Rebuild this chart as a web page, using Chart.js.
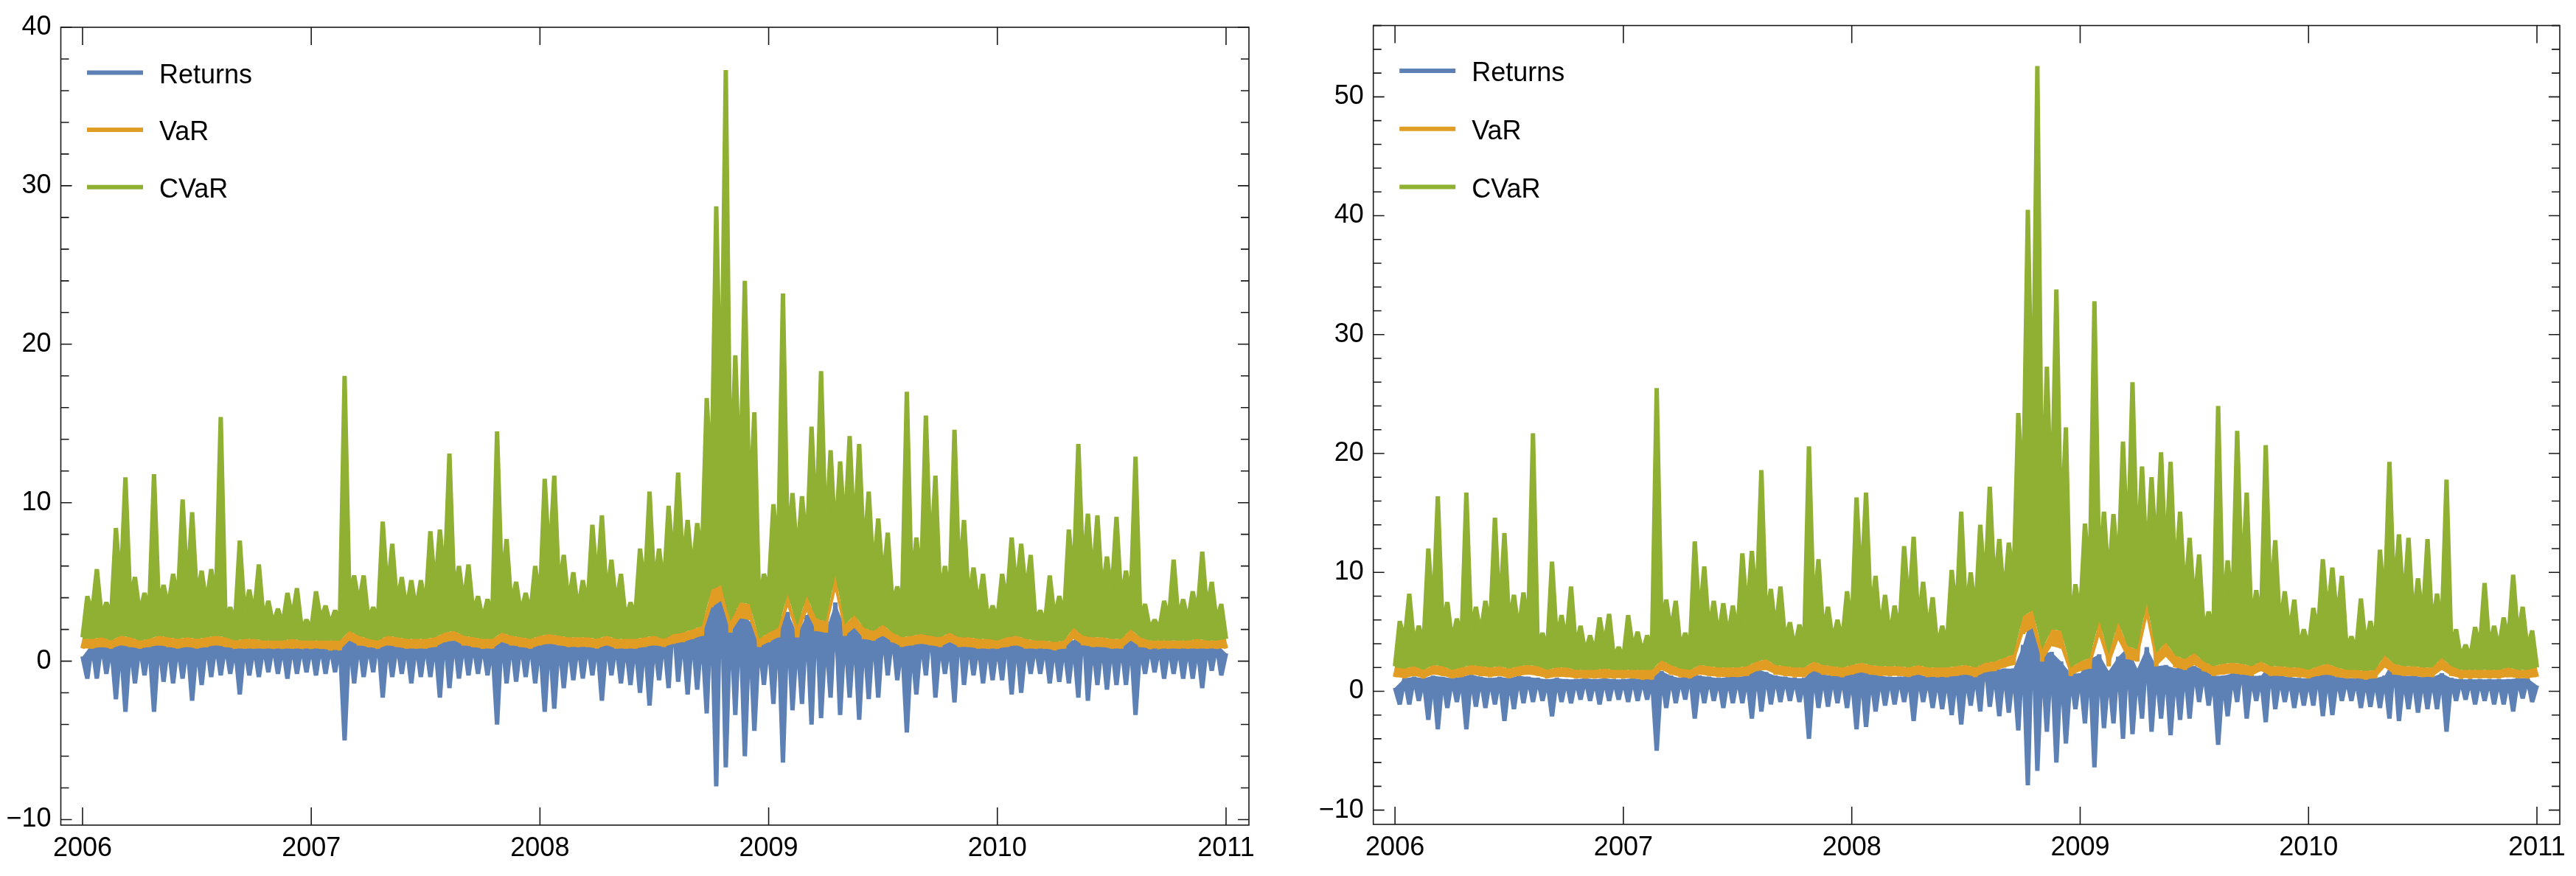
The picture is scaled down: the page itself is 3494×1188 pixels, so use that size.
<!DOCTYPE html>
<html>
<head>
<meta charset="utf-8">
<script src="https://cdn.jsdelivr.net/npm/chart.js@4.4.1/dist/chart.umd.min.js"></script>
<style>
  html, body { margin: 0; padding: 0; background: #fff; }
  #wrap { position: relative; width: 3494px; height: 1188px; background: #fff; overflow: hidden; }
  canvas { position: absolute; top: 0; }
  #chartLeft { left: 0; }
  #chartRight { left: 1750px; }
</style>
</head>
<body>
<div id="wrap">
  <canvas id="chartLeft" width="1750" height="1188"></canvas>
  <canvas id="chartRight" width="1744" height="1188"></canvas>
</div>
<script>
const seriesNames = ['Returns', 'VaR', 'CVaR'];
const seriesColors = ['#5e81b5', '#e19c24', '#8fb032'];
const yearTicks = [2006, 2007, 2008, 2009, 2010, 2011];
const leftYLabels = [-10, 0, 10, 20, 30, 40];
const rightYLabels = [-10, 0, 10, 20, 30, 40, 50];

// one sample every 1/48 year, starting 2006.0
// first array of each pair sits on the even steps, second on the odd steps
const startYear = 2006;
const stepsPerYear = 48;

// Returns (same series in both panels)
const returnsUp = [
  0.3, 1.1, 1.2, 1.1, 1.3, 1.2, 1.1, 1.2, 1.4, 1.2, 1.1, 1.2, 1.1, 1.3, 1.2, 1.1, 1.0, 1.1, 1.0, 1.0, 1.1, 1.0, 1.1, 1.0,
  1.0, 1.1, 1.0, 1.2, 1.7, 1.3, 1.1, 1.6, 1.3, 1.2, 1.1, 1.2, 1.2, 1.3, 1.9, 1.6, 1.3, 1.2, 1.1, 1.1, 1.9, 1.4, 1.3, 1.3,
  1.4, 1.8, 1.5, 1.3, 1.2, 1.2, 1.3, 1.4, 1.2, 1.2, 1.3, 1.5, 1.4, 1.6, 3.0, 1.8, 1.9, 1.9, 3.9, 6.7, 3.2, 3.3, 2.5, 1.5,
  1.5, 2.7, 3.1, 1.7, 2.9, 3.7, 1.9, 3.7, 2.1, 2.2, 1.9, 2.1, 2.1, 1.8, 1.3, 1.3, 1.5, 2.4, 1.3, 1.3, 2.3, 1.3, 1.2, 1.1,
  1.1, 1.7, 1.6, 1.2, 1.1, 1.1, 1.1, 1.1, 1.3, 2.8, 1.3, 1.3, 1.2, 1.2, 1.5, 1.1, 1.0, 1.0, 1.0, 1.0, 1.0, 1.0, 1.1, 1.1,
  0.5
];
const returnsDown = [
  -1.1, -1.1, -0.8, -2.4, -3.2, -1.4, -0.9, -3.2, -1.3, -1.4, -1.1, -2.5, -1.5, -1.0, -0.9, -0.8, -2.1, -0.9, -1.0, -0.7, -0.8, -1.1, -0.8, -0.7,
  -0.9, -0.8, -0.7, -5.0, -1.4, -1.0, -0.7, -2.3, -1.0, -0.8, -1.4, -1.0, -1.0, -2.3, -1.7, -1.1, -0.9, -0.8, -0.9, -4.0, -1.4, -1.3, -1.0, -1.4,
  -3.2, -3.0, -1.7, -1.2, -1.1, -0.9, -2.5, -0.9, -1.4, -1.5, -2.0, -2.8, -1.2, -1.7, -1.3, -2.1, -1.8, -3.3, -7.9, -6.7, -3.4, -6.0, -4.4, -1.5,
  -2.7, -6.4, -3.1, -2.7, -4.0, -3.6, -2.3, -3.4, -2.3, -3.7, -2.4, -2.3, -0.9, -1.2, -4.5, -2.1, -0.9, -2.3, -0.8, -2.6, -1.5, -0.9, -1.4, -1.2,
  -1.2, -2.1, -2.0, -0.8, -0.8, -1.4, -1.3, -1.4, -2.3, -2.5, -1.5, -1.8, -1.5, -1.5, -3.4, -0.8, -0.7, -1.1, -0.8, -1.1, -1.1, -1.7, -0.6, -0.9
];

// left panel
const varLeftLow = [
  0.8, 0.8, 0.9, 0.8, 1.0, 0.9, 0.8, 0.9, 1.0, 0.9, 0.8, 0.9, 0.8, 0.9, 1.0, 0.9, 0.8, 0.8, 0.8, 0.8, 0.8, 0.8, 0.8, 0.8,
  0.8, 0.8, 0.7, 0.7, 1.3, 1.0, 0.9, 0.8, 1.0, 0.9, 0.8, 0.8, 0.8, 0.9, 1.2, 1.3, 1.0, 0.9, 0.8, 0.8, 1.2, 1.0, 0.9, 0.8,
  1.0, 1.1, 1.0, 0.9, 0.9, 0.9, 0.8, 1.0, 0.8, 0.8, 0.8, 0.9, 1.0, 0.9, 1.1, 1.2, 1.4, 1.6, 3.4, 3.8, 1.8, 2.7, 2.6, 0.9,
  1.2, 1.5, 3.4, 1.5, 3.1, 1.9, 1.8, 4.4, 1.6, 2.1, 1.4, 1.3, 1.6, 1.2, 0.9, 1.0, 1.1, 1.0, 0.9, 1.2, 0.9, 0.9, 0.8, 0.8,
  0.8, 0.9, 1.0, 0.8, 0.8, 0.8, 0.7, 0.8, 1.4, 1.0, 0.9, 0.9, 0.8, 0.8, 1.3, 0.9, 0.8, 0.8, 0.8, 0.8, 0.8, 0.8, 0.8, 0.8,
  0.8
];
const varLeftHigh = [
  2.2, 3.0, 2.0, 4.2, 5.8, 2.8, 2.3, 5.9, 2.6, 2.9, 5.1, 4.8, 3.0, 3.0, 7.6, 1.9, 3.9, 2.4, 3.2, 2.0, 1.8, 2.3, 2.4, 1.5,
  2.3, 1.9, 1.7, 9.0, 2.8, 2.8, 1.8, 4.5, 3.8, 2.8, 2.7, 2.7, 4.2, 4.3, 6.6, 3.1, 3.2, 2.2, 2.1, 7.3, 4.0, 2.7, 2.3, 3.1,
  5.8, 5.9, 3.5, 2.9, 2.7, 4.4, 4.7, 3.3, 2.9, 2.0, 3.7, 5.5, 3.7, 5.0, 6.0, 4.6, 4.5, 8.4, 14.5, 18.9, 9.8, 12.1, 8.0, 2.9,
  5.0, 11.7, 5.4, 5.3, 7.5, 9.3, 6.8, 6.4, 7.2, 7.0, 5.4, 4.6, 4.1, 2.5, 8.6, 4.0, 7.9, 6.0, 3.1, 7.4, 4.6, 3.0, 2.8, 1.8,
  2.8, 4.0, 3.8, 3.4, 1.7, 2.8, 2.1, 4.2, 7.0, 4.7, 4.7, 3.4, 4.6, 2.9, 6.6, 1.9, 1.4, 2.0, 3.3, 2.0, 2.3, 3.5, 2.6, 1.9
];
// CVaR: lower edge of the green band, typical level between spikes, spike tops
const cvarLeftFloor = [
  1.4, 1.4, 1.5, 1.3, 1.6, 1.5, 1.3, 1.4, 1.6, 1.5, 1.4, 1.5, 1.4, 1.5, 1.6, 1.5, 1.3, 1.4, 1.4, 1.3, 1.3, 1.3, 1.4, 1.3,
  1.3, 1.3, 1.3, 1.3, 1.9, 1.6, 1.4, 1.3, 1.6, 1.5, 1.4, 1.4, 1.4, 1.5, 1.8, 1.9, 1.6, 1.5, 1.4, 1.4, 1.8, 1.6, 1.5, 1.4,
  1.6, 1.7, 1.6, 1.5, 1.5, 1.5, 1.4, 1.6, 1.4, 1.4, 1.4, 1.5, 1.6, 1.4, 1.7, 1.8, 2.0, 2.2, 4.5, 4.8, 2.5, 3.7, 3.6, 1.4,
  1.8, 2.1, 4.2, 2.2, 4.1, 2.7, 2.5, 5.4, 2.3, 2.9, 2.1, 1.9, 2.3, 1.8, 1.5, 1.6, 1.7, 1.6, 1.5, 1.8, 1.5, 1.5, 1.4, 1.4,
  1.3, 1.5, 1.6, 1.4, 1.3, 1.3, 1.2, 1.3, 2.1, 1.6, 1.5, 1.5, 1.4, 1.4, 2.0, 1.5, 1.3, 1.3, 1.3, 1.3, 1.3, 1.4, 1.3, 1.3,
  1.4
];
const cvarLeftBody = [
  1.5, 3.0, 2.8, 2.8, 4.5, 3.8, 3.0, 3.2, 3.5, 3.4, 3.8, 4.5, 4.0, 3.6, 3.8, 2.6, 2.4, 3.0, 2.9, 2.6, 2.3, 2.3, 2.7, 2.0,
  2.0, 2.6, 2.3, 2.4, 4.0, 3.6, 2.6, 2.6, 4.2, 3.6, 3.2, 3.2, 3.4, 4.5, 5.0, 4.2, 3.6, 3.0, 2.6, 2.8, 4.6, 3.5, 3.0, 3.0,
  3.8, 6.0, 4.5, 3.6, 3.2, 3.4, 4.8, 4.0, 3.5, 2.6, 2.8, 4.5, 4.6, 4.6, 6.0, 6.0, 5.5, 6.5, 11.0, 14.0, 10.0, 10.5, 9.0, 3.5,
  4.5, 6.5, 7.0, 6.5, 7.0, 8.0, 7.5, 7.5, 8.0, 7.5, 6.5, 5.5, 5.0, 3.5, 3.5, 4.5, 5.0, 6.0, 4.0, 4.0, 5.0, 3.8, 3.4, 2.6,
  2.6, 3.6, 4.4, 4.2, 2.5, 2.4, 2.7, 2.8, 5.0, 5.5, 5.0, 4.2, 4.2, 3.8, 3.8, 2.6, 2.0, 2.0, 2.6, 2.6, 2.5, 3.0, 3.2, 2.5,
  1.4
];
const cvarLeftHigh = [
  4.1, 5.8, 3.7, 8.4, 11.6, 5.3, 4.3, 11.8, 4.8, 5.5, 10.2, 9.4, 5.7, 5.8, 15.4, 3.4, 7.6, 4.5, 6.1, 3.8, 3.3, 4.3, 4.6, 2.6,
  4.4, 3.5, 3.2, 18.0, 5.4, 5.4, 3.4, 8.8, 7.4, 5.3, 5.1, 5.1, 8.2, 8.3, 13.1, 6.0, 6.1, 4.1, 3.9, 14.5, 7.7, 5.0, 4.3, 6.0,
  11.5, 11.7, 6.7, 5.6, 5.1, 8.6, 9.2, 6.4, 5.5, 3.7, 7.1, 10.7, 7.1, 9.8, 11.9, 8.9, 8.7, 16.6, 28.7, 37.3, 19.3, 24.0, 15.7, 5.5,
  9.9, 23.2, 10.6, 10.4, 14.8, 18.3, 13.3, 12.6, 14.2, 13.7, 10.7, 9.0, 8.1, 4.7, 17.0, 7.8, 15.5, 11.7, 6.0, 14.6, 8.9, 5.9, 5.5, 3.5,
  5.5, 7.8, 7.4, 6.7, 3.2, 5.4, 4.1, 8.3, 13.7, 9.3, 9.2, 6.6, 9.1, 5.7, 12.9, 3.6, 2.6, 3.8, 6.4, 3.9, 4.4, 6.9, 5.0, 3.6
];

// right panel
const varRightLow = [
  1.2, 1.1, 1.3, 1.1, 1.4, 1.3, 1.1, 1.2, 1.4, 1.3, 1.2, 1.3, 1.1, 1.3, 1.4, 1.3, 1.1, 1.2, 1.2, 1.1, 1.1, 1.1, 1.1, 1.1,
  1.1, 1.1, 1.0, 1.0, 1.8, 1.4, 1.2, 1.1, 1.4, 1.3, 1.2, 1.2, 1.2, 1.3, 1.7, 1.8, 1.4, 1.3, 1.2, 1.2, 1.7, 1.4, 1.3, 1.2,
  1.4, 1.6, 1.4, 1.3, 1.3, 1.3, 1.2, 1.4, 1.2, 1.2, 1.2, 1.3, 1.4, 1.2, 1.6, 1.7, 2.0, 2.2, 4.8, 5.3, 2.5, 3.8, 3.6, 1.3,
  1.7, 1.9, 4.6, 2.1, 4.3, 2.7, 2.5, 6.1, 2.1, 2.9, 2.0, 1.8, 2.2, 1.7, 1.3, 1.4, 1.5, 1.4, 1.3, 1.7, 1.3, 1.3, 1.2, 1.2,
  1.1, 1.3, 1.4, 1.2, 1.1, 1.1, 1.0, 1.1, 2.0, 1.4, 1.3, 1.3, 1.2, 1.2, 1.8, 1.3, 1.1, 1.1, 1.1, 1.1, 1.1, 1.2, 1.1, 1.1,
  1.2
];
const varRightHigh = [
  3.1, 4.2, 2.8, 5.9, 8.2, 3.9, 3.2, 8.3, 3.7, 4.1, 7.2, 6.8, 4.2, 4.2, 10.7, 2.7, 5.5, 3.4, 4.5, 2.8, 2.5, 3.2, 3.4, 2.1,
  3.2, 2.7, 2.4, 12.7, 3.9, 3.9, 2.5, 6.3, 5.4, 3.9, 3.8, 3.8, 5.9, 6.1, 9.3, 4.4, 4.5, 3.1, 3.0, 10.3, 5.6, 3.8, 3.2, 4.4,
  8.2, 8.3, 4.9, 4.1, 3.8, 6.2, 6.6, 4.7, 4.1, 2.8, 5.2, 7.8, 5.2, 7.0, 8.5, 6.5, 6.3, 11.8, 20.4, 26.6, 13.8, 17.0, 11.3, 4.1,
  7.1, 16.5, 7.6, 7.5, 10.6, 13.1, 9.6, 9.0, 10.1, 9.9, 7.6, 6.5, 5.8, 3.5, 12.1, 5.6, 11.1, 8.5, 4.4, 10.4, 6.5, 4.2, 3.9, 2.6,
  3.9, 5.6, 5.4, 4.8, 2.4, 3.9, 3.0, 5.9, 9.9, 6.6, 6.6, 4.8, 6.5, 4.1, 9.3, 2.7, 2.0, 2.8, 4.6, 2.8, 3.2, 4.9, 3.7, 2.7
];
const cvarRightFloor = [
  2.0, 1.9, 2.1, 1.8, 2.2, 2.1, 1.8, 2.0, 2.2, 2.1, 2.0, 2.1, 1.9, 2.1, 2.2, 2.1, 1.8, 2.0, 2.0, 1.8, 1.8, 1.8, 1.9, 1.8,
  1.8, 1.8, 1.8, 1.8, 2.6, 2.2, 1.9, 1.8, 2.2, 2.1, 2.0, 2.0, 2.0, 2.1, 2.5, 2.7, 2.2, 2.1, 2.0, 2.0, 2.5, 2.2, 2.1, 2.0,
  2.2, 2.4, 2.2, 2.1, 2.1, 2.1, 2.0, 2.2, 2.0, 2.0, 2.0, 2.1, 2.2, 2.0, 2.4, 2.5, 2.8, 3.1, 6.3, 6.8, 3.5, 5.2, 5.1, 2.0,
  2.5, 2.8, 5.9, 3.1, 5.8, 3.8, 3.5, 7.4, 3.2, 4.1, 3.0, 2.7, 3.2, 2.5, 2.1, 2.3, 2.4, 2.3, 2.1, 2.5, 2.1, 2.1, 2.0, 2.0,
  1.8, 2.1, 2.3, 2.0, 1.8, 1.8, 1.7, 1.8, 3.0, 2.3, 2.1, 2.1, 2.0, 2.0, 2.8, 2.1, 1.8, 1.8, 1.8, 1.8, 1.8, 2.0, 1.8, 1.8,
  2.0
];
const cvarRightBody = [
  2.1, 4.2, 3.9, 3.9, 6.3, 5.3, 4.2, 4.5, 4.9, 4.8, 5.3, 6.3, 5.6, 5.0, 5.3, 3.6, 3.4, 4.2, 4.1, 3.6, 3.2, 3.2, 3.8, 2.8,
  2.8, 3.6, 3.2, 3.4, 5.6, 5.0, 3.6, 3.6, 5.9, 5.0, 4.5, 4.5, 4.8, 6.3, 7.0, 5.9, 5.0, 4.2, 3.6, 3.9, 6.4, 4.9, 4.2, 4.2,
  5.3, 8.4, 6.3, 5.0, 4.5, 4.8, 6.7, 5.6, 4.9, 3.6, 3.9, 6.3, 6.4, 6.4, 8.4, 8.4, 7.7, 9.1, 15.4, 19.6, 14.0, 14.7, 12.6, 4.9,
  6.3, 9.1, 9.8, 9.1, 9.8, 11.2, 10.5, 10.5, 11.2, 10.5, 9.1, 7.7, 7.0, 4.9, 4.9, 6.3, 7.0, 8.4, 5.6, 5.6, 7.0, 5.3, 4.8, 3.6,
  3.6, 5.0, 6.2, 5.9, 3.5, 3.4, 3.8, 3.9, 7.0, 7.7, 7.0, 5.9, 5.9, 5.3, 5.3, 3.6, 2.8, 2.8, 3.6, 3.6, 3.5, 4.2, 4.5, 3.5,
  2.0
];
const cvarRightHigh = [
  5.9, 8.2, 5.5, 12.0, 16.4, 7.5, 6.1, 16.7, 7.1, 7.6, 14.6, 13.3, 8.1, 8.3, 21.7, 4.9, 10.9, 6.4, 8.8, 5.5, 4.7, 6.2, 6.5, 3.7,
  6.4, 5.0, 4.7, 25.5, 7.7, 7.6, 4.9, 12.6, 10.5, 7.6, 7.4, 7.2, 11.6, 11.8, 18.6, 8.6, 8.8, 5.8, 5.6, 20.6, 11.1, 7.1, 6.0, 8.4,
  16.3, 16.7, 9.7, 8.1, 7.2, 12.2, 13.0, 9.2, 7.9, 5.5, 10.2, 15.1, 10.0, 14.0, 17.2, 12.8, 12.5, 23.4, 40.5, 52.6, 27.3, 33.8, 22.2, 9.0,
  14.1, 32.8, 15.1, 14.9, 21.0, 26.0, 18.9, 18.0, 20.1, 19.3, 15.1, 12.9, 11.5, 6.7, 24.0, 11.0, 21.9, 16.7, 8.5, 20.7, 12.7, 8.4, 7.7, 5.2,
  7.0, 11.1, 10.4, 9.7, 4.6, 7.8, 5.9, 11.9, 19.3, 13.2, 12.9, 9.5, 12.8, 8.2, 17.8, 5.2, 3.9, 5.4, 9.1, 5.5, 6.2, 9.8, 7.1, 5.1
];

// put the even-step and odd-step samples back in time order
function weave(even, odd) {
    const pts = [];
    for (let i = 0; i < even.length; i++) {
        pts.push({ x: startYear + (2 * i) / stepsPerYear, y: even[i] });
        if (odd && i < odd.length) pts.push({ x: startYear + (2 * i + 1) / stepsPerYear, y: odd[i] });
    }
    return pts;
}

const fontFamily = '"Liberation Sans", Arial, sans-serif';

// Mathematica-like frame: box, inward ticks on all four sides, legend inside
const framePlugin = {
    id: 'frame',
    afterDatasetsDraw(chart, args, opts) {
        const { ctx, chartArea: a, scales: { x, y } } = chart;
        ctx.save();
        ctx.strokeStyle = '#1a1a1a';
        ctx.lineWidth = 1.6;
        ctx.strokeRect(a.left, a.top, a.right - a.left, a.bottom - a.top);
        ctx.beginPath();
        y.ticks.forEach(t => {
            const py = y.getPixelForValue(t.value);
            const len = opts.labels.includes(Math.round(t.value)) ? 15 : 11;
            ctx.moveTo(a.left, py); ctx.lineTo(a.left + len, py);
            ctx.moveTo(a.right, py); ctx.lineTo(a.right - len, py);
        });
        yearTicks.forEach(v => {
            const px = x.getPixelForValue(v);
            ctx.moveTo(px, a.bottom); ctx.lineTo(px, a.bottom - 24);
            ctx.moveTo(px, a.top); ctx.lineTo(px, a.top + 24);
        });
        ctx.stroke();

        // legend
        ctx.font = '36px ' + fontFamily;
        ctx.fillStyle = '#000';
        ctx.textBaseline = 'alphabetic';
        seriesNames.forEach((name, i) => {
            const rowY = a.top + 61.5 + i * opts.rowGap;
            ctx.beginPath();
            ctx.strokeStyle = seriesColors[i];
            ctx.lineWidth = 6;
            ctx.moveTo(a.left + 35.5, rowY);
            ctx.lineTo(a.left + 111.5, rowY);
            ctx.stroke();
            ctx.fillText(name, a.left + 133.5, rowY + 14);
        });
        ctx.restore();
    }
};

function makeChart(id, varLow, varHigh, cvarFloor, cvarBody, cvarHigh, yMin, yMax, yLabels, pad, yWidth, xHeight, rowGap) {
    const common = { pointRadius: 0, borderJoinStyle: 'bevel', borderCapStyle: 'butt' };
    const clear = 'rgba(0,0,0,0)';
    return new Chart(document.getElementById(id), {
        type: 'line',
        data: {
            datasets: [
                // 0: daily returns, filled up to their upper edge (1)
                { ...common, label: 'Returns', data: weave(returnsUp, returnsDown),
                  borderColor: seriesColors[0], backgroundColor: seriesColors[0], borderWidth: 6, fill: 1, order: 6 },
                { ...common, label: 'Returns upper edge', data: weave(returnsUp),
                  borderColor: clear, borderWidth: 0, fill: false, order: 5 },
                // 2: visible VaR strip, from its lower edge up to the CVaR floor (5)
                { ...common, label: 'VaR lower edge', data: weave(varLow),
                  borderColor: clear, backgroundColor: seriesColors[1], borderWidth: 0, fill: 5, order: 4 },
                { ...common, label: 'VaR', data: weave(varLow, varHigh),
                  borderColor: seriesColors[1], backgroundColor: seriesColors[1], borderWidth: 6, fill: false, order: 3 },
                // 4: CVaR, filled down to its floor (5)
                { ...common, label: 'CVaR', data: weave(cvarBody, cvarHigh),
                  borderColor: seriesColors[2], backgroundColor: seriesColors[2], borderWidth: 6, fill: 5, order: 2 },
                { ...common, label: 'CVaR floor', data: weave(cvarFloor),
                  borderColor: clear, borderWidth: 0, fill: false, order: 1 }
            ]
        },
        options: {
            responsive: false,
            maintainAspectRatio: false,
            devicePixelRatio: 1,
            animation: false,
            events: [],
            parsing: false,
            layout: { padding: pad },
            scales: {
                x: {
                    type: 'linear',
                    min: 2005.905,
                    max: 2011.1,
                    afterFit: s => { s.height = xHeight; },
                    afterBuildTicks: s => { s.ticks = yearTicks.map(v => ({ value: v })); },
                    grid: { display: false, drawTicks: false },
                    border: { display: false },
                    ticks: {
                        autoSkip: false,
                        maxRotation: 0,
                        padding: 10,
                        color: '#000',
                        font: { family: fontFamily, size: 36 },
                        callback: v => String(v)
                    }
                },
                y: {
                    type: 'linear',
                    min: yMin,
                    max: yMax,
                    afterFit: s => { s.width = yWidth; },
                    grid: { display: false, drawTicks: false },
                    border: { display: false },
                    ticks: {
                        stepSize: 2,
                        includeBounds: false,
                        autoSkip: false,
                        padding: 13,
                        color: '#000',
                        font: { family: fontFamily, size: 36 },
                        callback: v => {
                            const r = Math.round(v);
                            if (Math.abs(v - r) > 1e-6 || !yLabels.includes(r)) return '';
                            return r < 0 ? '\u2212' + Math.abs(r) : String(r);
                        }
                    }
                }
            },
            plugins: {
                legend: { display: false },
                tooltip: { enabled: false },
                filler: { propagate: false },
                frame: { labels: yLabels, rowGap: rowGap }
            }
        },
        plugins: [framePlugin]
    });
}

makeChart('chartLeft', varLeftLow, varLeftHigh, cvarLeftFloor, cvarLeftBody, cvarLeftHigh,
    -10.35, 40, leftYLabels, { top: 37, right: 56, bottom: 0, left: 0 }, 82.5, 69, 77.6);
makeChart('chartRight', varRightLow, varRightHigh, cvarRightFloor, cvarRightBody, cvarRightHigh,
    -11.2, 56, rightYLabels, { top: 21, right: 22, bottom: 0, left: 0 }, 112.7, 70, 78.7);
</script>
</body>
</html>
